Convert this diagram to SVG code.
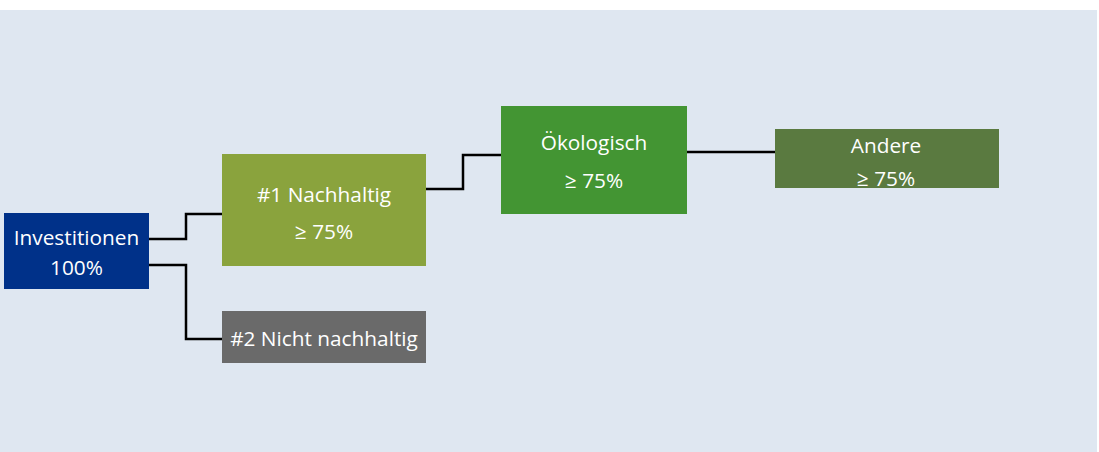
<svg xmlns="http://www.w3.org/2000/svg" width="1099" height="452" viewBox="0 0 1099 452">
<style>
.t{font-family:"Open Sans","Noto Sans","Liberation Sans",sans-serif;font-size:20.8px;fill:#ffffff;text-anchor:middle}
.c{fill:none;stroke:#000;stroke-width:2.5}
</style>
<rect x="0" y="0" width="1099" height="452" fill="#ffffff"/>
<rect x="0" y="10" width="1097" height="442" fill="#dfe7f1"/>
<g id="connectors">
<polyline class="c" points="149,239 186,239 186,214 222,214"/>
<polyline class="c" points="149,265 186,265 186,339 222,339"/>
<polyline class="c" points="426,189 463,189 463,155 501,155"/>
<polyline class="c" points="687,152 775,152"/>
</g>
<g id="investitionen">
<rect x="4" y="213" width="145" height="76" fill="#003189"/>
<text class="t" x="76.5" y="245">Investitionen</text>
<text class="t" x="76.5" y="275">100%</text>
</g>
<g id="nachhaltig">
<rect x="222" y="154" width="204" height="112" fill="#8aa33d"/>
<text class="t" x="324" y="202">#1 Nachhaltig</text>
<text class="t" x="324" y="239">≥ 75%</text>
</g>
<g id="nicht-nachhaltig">
<rect x="222" y="311" width="204" height="52" fill="#6a6a6a"/>
<text class="t" x="324" y="346">#2 Nicht nachhaltig</text>
</g>
<g id="oekologisch">
<rect x="501" y="106" width="186" height="108" fill="#439533"/>
<text class="t" x="594" y="150">Ökologisch</text>
<text class="t" x="594" y="188">≥ 75%</text>
</g>
<g id="andere">
<rect x="775" y="129" width="224" height="59" fill="#5a7a40"/>
<text class="t" x="886" y="153">Andere</text>
<text class="t" x="886" y="186">≥ 75%</text>
</g>
</svg>
